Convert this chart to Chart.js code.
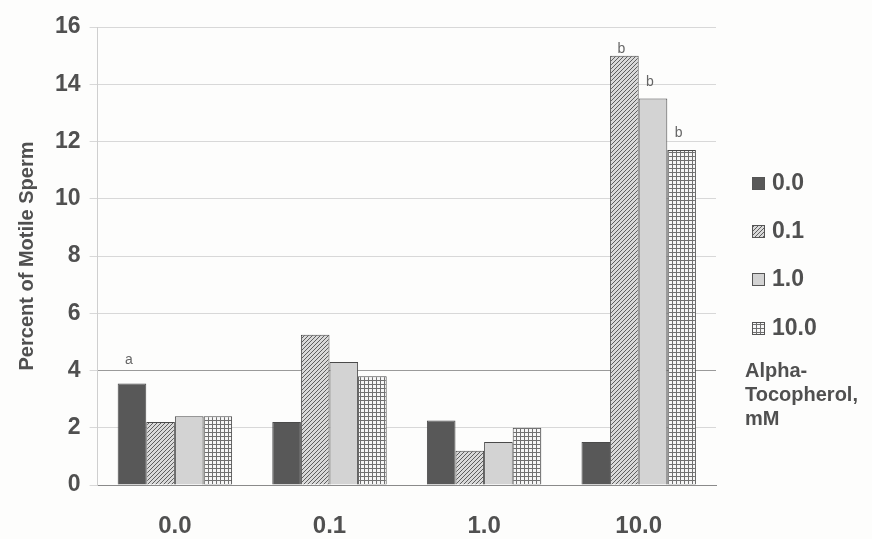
<!DOCTYPE html>
<html>
<head>
<meta charset="utf-8">
<script src="https://cdn.jsdelivr.net/npm/chart.js@4.4.1/dist/chart.umd.min.js"></script>
<style>
  html, body { margin: 0; padding: 0; background: #fdfdfc; }
  #wrap { width: 872px; height: 539px; }
</style>
</head>
<body>
<div id="wrap"><canvas id="c" width="872" height="539"></canvas></div>
<script>
// Treatment groups along the x axis
const categories = ['0.0', '0.1', '1.0', '10.0'];
// Alpha-tocopherol concentrations (mM), one series each
const seriesNames = ['0.0', '0.1', '1.0', '10.0'];
const motile00 = [3.55, 2.2, 2.25, 1.5];
const motile01 = [2.2, 5.25, 1.2, 15.0];
const motile10 = [2.4, 4.3, 1.5, 13.5];
const motile100 = [2.4, 3.8, 2.0, 11.7];
// Significance letters shown above bars, and the height (y units) each sits at
const letters00 = ['a', '', '', ''];
const letters01 = ['', '', '', 'b'];
const letters10 = ['', '', '', 'b'];
const letters100 = ['', '', '', 'b'];
const letterY00 = [4.37, null, null, null];
const letterY01 = [null, null, null, 15.23];
const letterY10 = [null, null, null, 14.08];
const letterY100 = [null, null, null, 12.3];
const yTicks = [0, 2, 4, 6, 8, 10, 12, 14, 16];
const legendNote = ['Alpha-', 'Tocopherol,', 'mM'];

function makePattern(draw, size) {
  const cv = document.createElement('canvas');
  cv.width = size; cv.height = size;
  const g = cv.getContext('2d');
  draw(g, size);
  return g.createPattern(cv, 'repeat');
}
const ctx = document.getElementById('c').getContext('2d');

const hatch = makePattern((g, s) => {
  g.fillStyle = '#d9d9d9';
  g.fillRect(0, 0, s, s);
  g.strokeStyle = '#5e5e5e';
  g.lineWidth = 1;
  g.beginPath();
  g.moveTo(0, s); g.lineTo(s, 0);
  g.moveTo(-1, 1); g.lineTo(1, -1);
  g.moveTo(s - 1, s + 1); g.lineTo(s + 1, s - 1);
  g.stroke();
}, 4);

const checker = makePattern((g, s) => {
  g.fillStyle = '#f6f6f6';
  g.fillRect(0, 0, s, s);
  g.fillStyle = '#707070';
  g.fillRect(0, 0, s, 1);
  g.fillRect(0, 0, 1, s);
}, 4);

const fills = ['#585858', hatch, '#d3d3d3', checker];
const values = [motile00, motile01, motile10, motile100];
const letters = [letters00, letters01, letters10, letters100];
const letterYs = [letterY00, letterY01, letterY10, letterY100];

const textColor = '#505050';
const FONT = "'Liberation Sans', Arial, sans-serif";

// Draws the letters above bars plus the legend block on the right
const extras = {
  id: 'extras',
  afterDatasetsDraw(chart) {
    const c = chart.ctx;
    const yScale = chart.scales.y;
    c.save();
    c.fillStyle = '#666';
    c.font = `14px ${FONT}`;
    c.textAlign = 'center';
    c.textBaseline = 'middle';
    chart.data.datasets.forEach((ds, i) => {
      const meta = chart.getDatasetMeta(i);
      meta.data.forEach((bar, j) => {
        const t = ds.letters[j];
        if (t) c.fillText(t, bar.x - 3, yScale.getPixelForValue(ds.letterY[j]));
      });
    });

    // Legend
    const lx = 752;
    const ys = [183, 231, 279, 328];
    c.textAlign = 'left';
    c.textBaseline = 'middle';
    chart.data.datasets.forEach((ds, i) => {
      const y = ys[i];
      c.fillStyle = ds.backgroundColor;
      c.fillRect(lx, y - 6, 13, 13);
      c.strokeStyle = '#555';
      c.lineWidth = 1;
      c.strokeRect(lx + 0.5, y - 5.5, 12, 12);
      c.fillStyle = textColor;
      c.font = `bold 23px ${FONT}`;
      c.fillText(ds.label, lx + 20, y + 1);
    });
    c.font = `bold 20px ${FONT}`;
    legendNote.forEach((line, k) => c.fillText(line, 745, 371 + k * 24));
    c.restore();
  }
};

new Chart(ctx, {
  type: 'bar',
  data: {
    labels: categories,
    datasets: seriesNames.map((name, i) => ({
      label: name,
      data: values[i],
      letters: letters[i],
      letterY: letterYs[i],
      backgroundColor: fills[i],
      borderColor: '#4a4a4a',
      borderWidth: 1,
      categoryPercentage: 0.74,
      barPercentage: 1.0
    }))
  },
  options: {
    responsive: false,
    animation: false,
    layout: { padding: { left: 15, right: 156, top: 27, bottom: 4 } },
    plugins: {
      legend: { display: false },
      tooltip: { enabled: false }
    },
    scales: {
      x: {
        grid: { display: false, drawTicks: false },
        border: { color: '#8a8a8a', width: 1 },
        ticks: {
          color: textColor,
          font: { family: FONT, size: 24, weight: 'bold' },
          padding: 27
        },
        afterFit(scale) { scale.height = 50; }
      },
      y: {
        min: 0, max: 16,
        afterBuildTicks(scale) { scale.ticks = yTicks.map(v => ({ value: v })); },
        grid: {
          color: (c) => c.tick && c.tick.value === 4 ? '#9a9a9a' : '#d8d8d8',
          tickLength: 8,
          tickColor: '#d8d8d8'
        },
        border: { color: '#cfcfcf' },
        ticks: {
          color: textColor,
          font: { family: FONT, size: 23, weight: 'bold' },
          padding: 9
        },
        title: {
          display: true,
          text: 'Percent of Motile Sperm',
          color: textColor,
          font: { family: FONT, size: 20, weight: 'bold' },
          padding: { top: 0, bottom: 7 }
        }
      }
    }
  },
  plugins: [extras]
});
</script>
</body>
</html>
